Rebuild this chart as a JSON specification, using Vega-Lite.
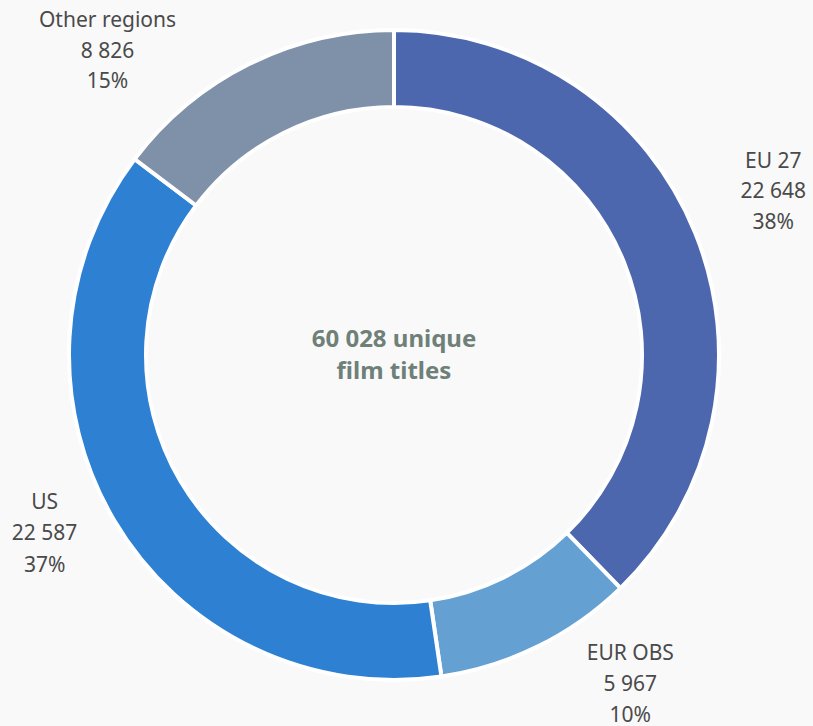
{
  "$schema": "https://vega.github.io/schema/vega-lite/v6.json",
  "width": 788,
  "height": 710,
  "autosize": {"type": "none"},
  "padding": {"left": 0, "top": 0, "right": 25, "bottom": 16},
  "background": "#f9f9f9",
  "config": {"view": {"stroke": null}, "font": "Noto Sans"},
  "data": {
    "values": [
      {"idx": 1, "region": "EU 27", "titles": 22648, "label": ["EU 27", "22 648", "38%"]},
      {"idx": 2, "region": "EUR OBS", "titles": 5967, "label": ["EUR OBS", "5 967", "10%"]},
      {"idx": 3, "region": "US", "titles": 22587, "label": ["US", "22 587", "37%"]},
      {"idx": 4, "region": "Other regions", "titles": 8826, "label": ["Other regions", "8 826", "15%"]}
    ]
  },
  "encoding": {
    "theta": {"field": "titles", "type": "quantitative", "stack": true},
    "order": {"field": "idx", "type": "quantitative"}
  },
  "layer": [
    {
      "mark": {"type": "arc", "outerRadius": 325, "innerRadius": 248, "stroke": "#ffffff", "strokeWidth": 4},
      "encoding": {
        "color": {
          "field": "region",
          "type": "nominal",
          "scale": {
            "domain": ["EU 27", "EUR OBS", "US", "Other regions"],
            "range": ["#4d67ae", "#65a0d2", "#2e80d2", "#7f90a9"]
          },
          "legend": null
        }
      }
    },
    {
      "mark": {"type": "text", "radius": 405, "dx": 4, "dy": -41, "fontSize": 21, "lineHeight": 30.5, "align": "center", "baseline": "middle", "color": "#4a4a4a"},
      "encoding": {"text": {"field": "label"}, "opacity": {"condition": {"test": "datum.region == 'EU 27'", "value": 1}, "value": 0}}
    },
    {
      "mark": {"type": "text", "radius": 405, "dx": 57, "dy": -64, "fontSize": 21, "lineHeight": 31, "align": "center", "baseline": "middle", "color": "#4a4a4a"},
      "encoding": {"text": {"field": "label"}, "opacity": {"condition": {"test": "datum.region == 'EUR OBS'", "value": 1}, "value": 0}}
    },
    {
      "mark": {"type": "text", "radius": 405, "dx": -1, "dy": -59, "fontSize": 21, "lineHeight": 31.5, "align": "center", "baseline": "middle", "color": "#4a4a4a"},
      "encoding": {"text": {"field": "label"}, "opacity": {"condition": {"test": "datum.region == 'US'", "value": 1}, "value": 0}}
    },
    {
      "mark": {"type": "text", "radius": 405, "dx": -106, "dy": 29, "fontSize": 21, "lineHeight": 30.5, "align": "center", "baseline": "middle", "color": "#4a4a4a"},
      "encoding": {"text": {"field": "label"}, "opacity": {"condition": {"test": "datum.region == 'Other regions'", "value": 1}, "value": 0}}
    },
    {
      "data": {"values": [{"caption": ["60 028 unique", "film titles"]}]},
      "mark": {"type": "text", "fontSize": 24, "fontWeight": "bold", "lineHeight": 32, "dy": -15, "align": "center", "baseline": "middle", "color": "#6e8078"},
      "encoding": {"text": {"field": "caption"}, "theta": null, "order": null}
    }
  ]
}
